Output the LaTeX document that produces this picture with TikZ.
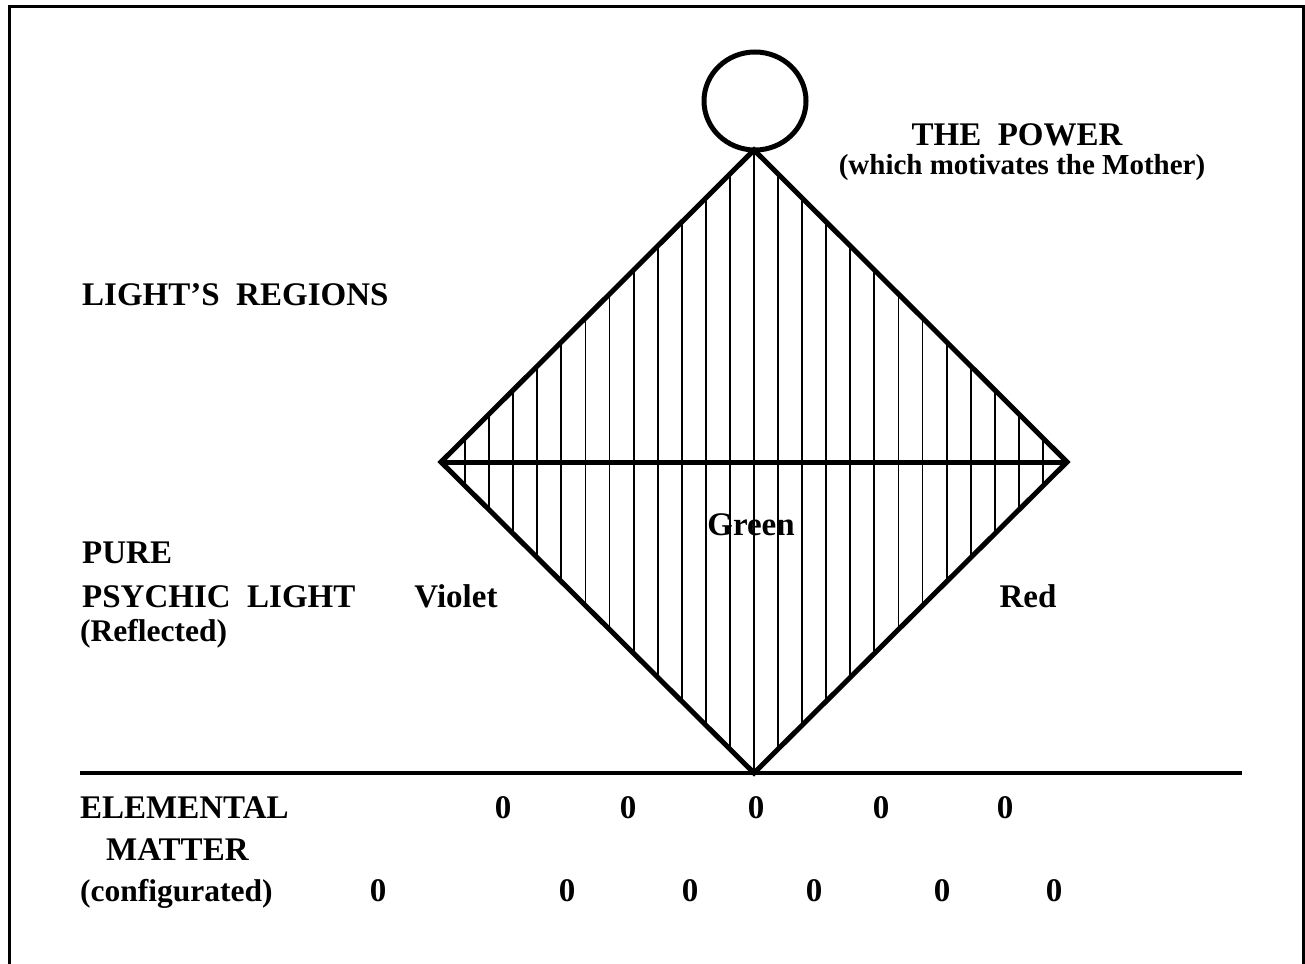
\documentclass[tikz,border=0pt]{standalone}
\usepackage{fontspec}
\setmainfont{Liberation Serif}
\begin{document}
\begin{tikzpicture}[x=1pt,y=-1pt,
  big/.style={font=\fontsize{33}{36}\selectfont\bfseries, inner sep=0pt},
  small/.style={font=\fontsize{29}{34}\selectfont\bfseries, inner sep=0pt},
  mid/.style={font=\fontsize{31.5}{34}\selectfont\bfseries, inner sep=0pt},
  heavy/.style={line width=5pt, line join=miter},
  hatchline/.style={line width=1.8pt},
  framestyle/.style={line width=3pt}]
\useasboundingbox (0,0) rectangle (1305,963);
% frame
\coordinate (f1) at (9,965);
\coordinate (f2) at (9,7);
\coordinate (f3) at (1303,7);
\coordinate (f4) at (1303,965);
\draw[framestyle] (f1) -- (f2) -- (f3) -- (f4);
% diamond vertices
\coordinate (top) at (754,150);
\coordinate (left) at (441,462);
\coordinate (right) at (1067,462);
\coordinate (bot) at (754,773);
% hatching
\foreach \i in {-12,...,12} {
  \pgfmathsetmacro{\dx}{\i*313/13}
  \pgfmathsetmacro{\f}{1-abs(\dx)/313}
  \draw[hatchline] (754+\dx, 462-312*\f) -- (754+\dx, 462+311*\f);
}
\draw[heavy] (top) -- (right) -- (bot) -- (left) -- cycle;
\draw[heavy] (left) -- (right);
% circle
\coordinate (cc) at (755,101);
\draw[line width=5pt] (cc) ellipse [x radius=51pt, y radius=49pt];
% base line
\coordinate (bl) at (80,773);
\coordinate (br) at (1242,773);
\draw[line width=4.5pt] (bl) -- (br);
% texts
\node[big, anchor=base] (power) at (1017,146) {THE~~POWER};
\node[small, anchor=base] (mother) at (1022,174) {(which motivates the Mother)};
\node[big, anchor=base west] (regions) at (82,305) {LIGHT'S~~REGIONS};
\node[big, anchor=base west] (pure) at (82,563) {PURE};
\node[big, anchor=base west] (psychic) at (82,607) {PSYCHIC~~LIGHT};
\node[mid, anchor=base west] (refl) at (80,641) {(Reflected)};
\node[big, anchor=base] (violet) at (456,607) {Violet};
\node[big, anchor=base] (green) at (751,535) {Green};
\node[big, anchor=base] (red) at (1028,607) {Red};
\node[big, anchor=base west] (elem) at (80,818) {ELEMENTAL};
\node[big, anchor=base west] (matter) at (106,860) {MATTER};
\node[mid, anchor=base west] (config) at (80,901) {(configurated)};
\foreach \x [count=\k] in {503,628,756,881,1005} {
  \node[big, anchor=base] (za\k) at (\x,818) {0};
}
\foreach \x [count=\k] in {378,567,690,814,942,1054} {
  \node[big, anchor=base] (zb\k) at (\x,901) {0};
}
\end{tikzpicture}
\end{document}
